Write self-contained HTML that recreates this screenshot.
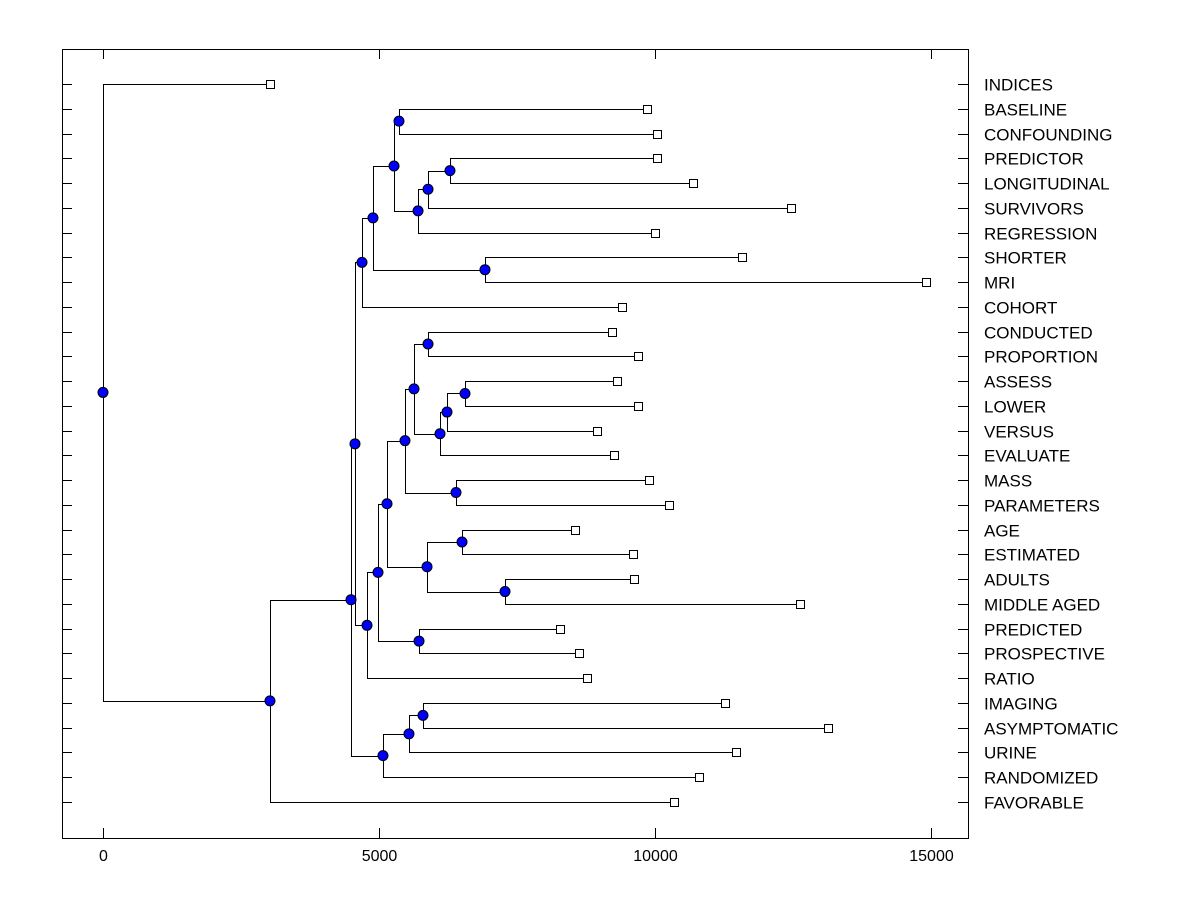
<!DOCTYPE html>
<html><head><meta charset="utf-8"><style>
body{margin:0;background:#fff}
svg text{font-family:"Liberation Sans",Arial,sans-serif;font-size:16px;fill:#000}
svg text.leaf{font-size:17px}
</style></head><body>
<svg id="chart" width="1200" height="900" xmlns="http://www.w3.org/2000/svg">
<rect x="62.5" y="49.5" width="906" height="789" fill="none" stroke="#000" stroke-width="1"/>
<g id="g"></g>
</svg>
<script>
const leafLabels=["INDICES","BASELINE","CONFOUNDING","PREDICTOR","LONGITUDINAL","SURVIVORS","REGRESSION","SHORTER","MRI","COHORT","CONDUCTED","PROPORTION","ASSESS","LOWER","VERSUS","EVALUATE","MASS","PARAMETERS","AGE","ESTIMATED","ADULTS","MIDDLE AGED","PREDICTED","PROSPECTIVE","RATIO","IMAGING","ASYMPTOMATIC","URINE","RANDOMIZED","FAVORABLE"];
const leafValues=[3025,9855,10036,10036,10688,12464,10000,11576,14909,9402,9221,9692,9312,9692,8949,9257,9891,10253,8551,9601,9620,12627,8279,8623,8768,11268,13134,11467,10797,10344];
const nodeValues=[0,3025,4493,4565,4692,4891,5272,6920,5362,5707,5888,6286,4783,4982,5145,5725,5471,5870,5634,6395,5888,6105,6232,6558,6504,7283,5072,5543,5797];
const nodeChildren=[["L0","N1"],["N2","L29"],["N3","N26"],["N4","N12"],["N5","L9"],["N6","N7"],["N8","N9"],["L7","L8"],["L1","L2"],["N10","L6"],["N11","L5"],["L3","L4"],["N13","L24"],["N14","N15"],["N16","N17"],["L22","L23"],["N18","N19"],["N24","N25"],["N20","N21"],["L16","L17"],["L10","L11"],["N22","L15"],["N23","L14"],["L12","L13"],["L18","L19"],["L20","L21"],["N27","L28"],["N28","L27"],["L25","L26"]];
const xTicks=[0,5000,10000,15000];

const X=v=>103+v*0.0552;
const g=document.getElementById('g');
const NS='http://www.w3.org/2000/svg';
function mk(t,a){const e=document.createElementNS(NS,t);for(const k in a)e.setAttribute(k,a[k]);g.appendChild(e);return e;}
function pos(c){
  if(c[0]==='L'){const i=+c.slice(1);return {x:X(leafValues[i]),y:84+i*(718/29)};}
  const j=+c.slice(1);const a=pos(nodeChildren[j][0]),b=pos(nodeChildren[j][1]);
  return {x:X(nodeValues[j]),y:(a.y+b.y)/2,a,b};
}
leafLabels.forEach((l,i)=>{
  const y=Math.round(84+i*(718/29))+0.5;
  let e=mk('line',{x1:62,x2:72,y1:y,y2:y,stroke:'#000'});
  
  
  e=mk('line',{x1:958,x2:968,y1:y,y2:y,stroke:'#000'});
  
  
  e=mk('text',{x:984,y:y+6,class:'leaf'});e.textContent=l;
  
  
});
xTicks.forEach(v=>{
  const x=Math.round(X(v))+0.5;
  let e=mk('line',{x1:x,x2:x,y1:828,y2:838,stroke:'#000'});
  
  
  e=mk('line',{x1:x,x2:x,y1:49,y2:59,stroke:'#000'});
  
  
  e=mk('text',{x:x,y:861,'text-anchor':'middle'});e.textContent=v;
  
  
});
const dots=[],boxes=[];
function draw(c){
  const p=pos(c);
  if(!p.a){boxes.push(p);return p;}
  const j=+c.slice(1);
  const a=draw(nodeChildren[j][0]),b=draw(nodeChildren[j][1]);
  const px=Math.round(p.x)+0.5;
  const path=mk('path',{d:`M${Math.round(a.x)+0.5},${Math.round(a.y)+0.5}H${px}V${Math.round(b.y)+0.5}H${Math.round(b.x)+0.5}`,fill:'none',stroke:'#000'});
  
  
  dots.push(p);return p;
}
draw('N0');
boxes.forEach(p=>{const e=mk('rect',{x:Math.round(p.x)-3.5,y:Math.round(p.y)-3.5,width:8,height:8,fill:'#fff',stroke:'#000'});
  
  });
dots.forEach(p=>{const e=mk('circle',{cx:p.x,cy:p.y,r:5,fill:'#0000ff',stroke:'#000'});
  
  });
</script>
</body></html>
